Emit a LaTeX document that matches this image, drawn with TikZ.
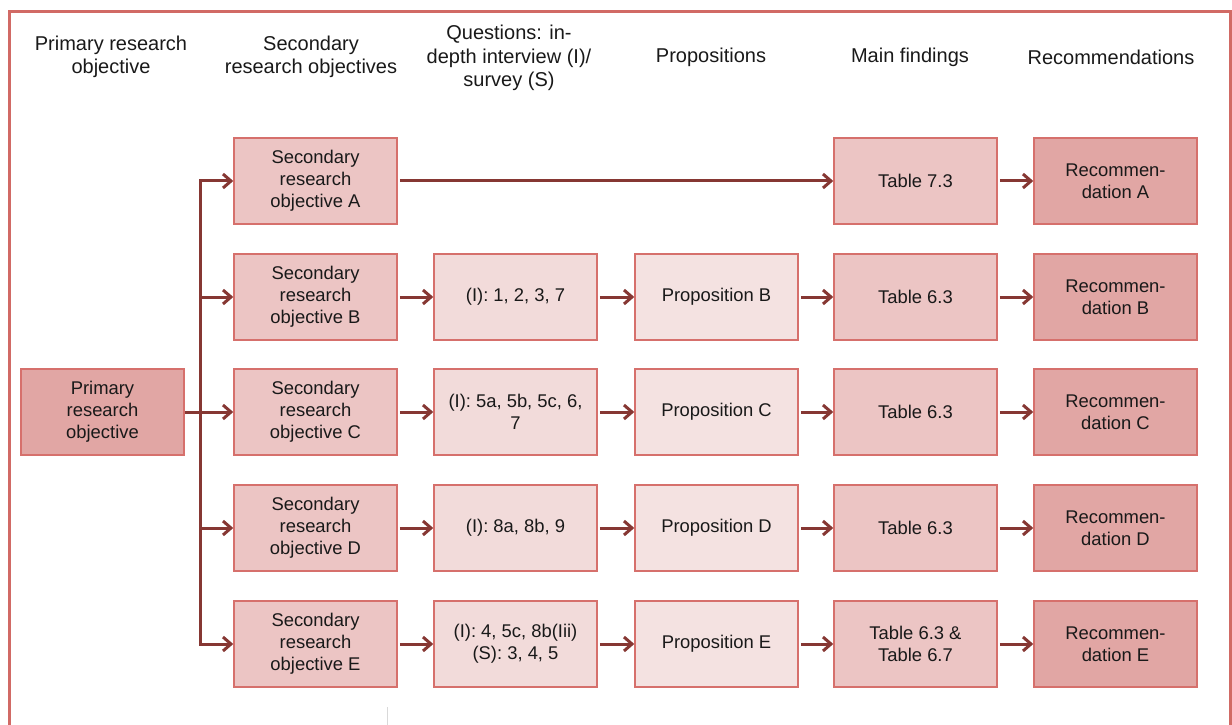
\documentclass[tikz,border=0pt]{standalone}
\usepackage{fontspec}
\setmainfont{Liberation Sans}
\usetikzlibrary{arrows.meta}
\definecolor{frameRed}{RGB}{209,106,101}
\definecolor{boxLine}{RGB}{214,112,108}
\definecolor{arrowRed}{RGB}{134,55,51}
\definecolor{fillSec}{RGB}{236,197,196}
\definecolor{fillQue}{RGB}{242,219,218}
\definecolor{fillPro}{RGB}{244,226,225}
\definecolor{fillFin}{RGB}{236,197,196}
\definecolor{fillRec}{RGB}{225,166,164}
\tikzset{
  basebox/.style={draw=boxLine, line width=1.5bp, minimum width=163bp, minimum height=86bp,
    inner sep=0pt, align=center, font=\fontsize{18.4bp}{22bp}\selectfont, text=black!90},
  secbox/.style={basebox, fill=fillSec},
  quebox/.style={basebox, fill=fillQue},
  probox/.style={basebox, fill=fillPro},
  finbox/.style={basebox, fill=fillFin},
  recbox/.style={basebox, fill=fillRec},
  headtext/.style={align=center, font=\fontsize{20bp}{23.5bp}\selectfont, text=black!90, inner sep=0pt},
  flow/.style={draw=arrowRed, line width=3bp, -{Straight Barb[length=8bp,width=14bp,line width=3bp]}},
}
\begin{document}
\begin{tikzpicture}[x=1bp, y=-1bp]
  \useasboundingbox (0,0) rectangle (1232,725);
  % outer frame, running past the lower edge
  \draw[frameRed, line width=3.5bp] (9.5,11.5) rectangle (1231,760);
  \draw[black!15, line width=1bp] (387,707) -- (387,725);

  % column headings
  \node[headtext] (h1) at (111,57) {Primary research\\objective};
  \node[headtext] (h2) at (311,57) {Secondary\\research objectives};
  \node[headtext] (h3) at (509,58) {Questions: in-\\depth interview (I)/\\survey (S)};
  \node[headtext] (h4) at (711,57) {Propositions};
  \node[headtext] (h5) at (910,57) {Main findings};
  \node[headtext] (h6) at (1111,57) {Recommendations};

  % primary objective
  \node[recbox] (prim) at (102.5,412) {Primary\\research\\objective};

  % secondary objectives
  \node[secbox] (sA) at (315.5,181) {Secondary\\research\\objective A};
  \node[secbox] (sB) at (315.5,297) {Secondary\\research\\objective B};
  \node[secbox] (sC) at (315.5,412) {Secondary\\research\\objective C};
  \node[secbox] (sD) at (315.5,528) {Secondary\\research\\objective D};
  \node[secbox] (sE) at (315.5,644) {Secondary\\research\\objective E};

  % interview / survey questions
  \node[quebox] (qB) at (515.5,297) {(I): 1, 2, 3, 7};
  \node[quebox] (qC) at (515.5,412) {(I): 5a, 5b, 5c, 6,\\7};
  \node[quebox] (qD) at (515.5,528) {(I): 8a, 8b, 9};
  \node[quebox] (qE) at (515.5,644) {(I): 4, 5c, 8b(Iii)\\(S): 3, 4, 5};

  % propositions
  \node[probox] (pB) at (716.5,297) {Proposition B};
  \node[probox] (pC) at (716.5,412) {Proposition C};
  \node[probox] (pD) at (716.5,528) {Proposition D};
  \node[probox] (pE) at (716.5,644) {Proposition E};

  % main findings
  \node[finbox] (fA) at (915.5,181) {Table 7.3};
  \node[finbox] (fB) at (915.5,297) {Table 6.3};
  \node[finbox] (fC) at (915.5,412) {Table 6.3};
  \node[finbox] (fD) at (915.5,528) {Table 6.3};
  \node[finbox] (fE) at (915.5,644) {Table 6.3 \&\\Table 6.7};

  % recommendations
  \node[recbox] (rA) at (1115.5,181) {Recommen-\\dation A};
  \node[recbox] (rB) at (1115.5,297) {Recommen-\\dation B};
  \node[recbox] (rC) at (1115.5,412) {Recommen-\\dation C};
  \node[recbox] (rD) at (1115.5,528) {Recommen-\\dation D};
  \node[recbox] (rE) at (1115.5,644) {Recommen-\\dation E};

  % branching from the primary objective
  \coordinate (trunk) at (200,412);
  \draw[flow] (prim.east) -- (sC.west);
  \draw[flow] (trunk) |- (sA.west);
  \draw[flow] (trunk) |- (sB.west);
  \draw[flow] (trunk) |- (sD.west);
  \draw[flow] (trunk) |- (sE.west);

  % row A goes straight to its finding
  \draw[flow, shorten <=2bp] (sA.east) -- (fA.west);
  \draw[flow, shorten <=2bp] (fA.east) -- (rA.west);

  % rows B to E
  \foreach \r in {B,C,D,E}{
    \draw[flow, shorten <=2bp] (s\r.east) -- (q\r.west);
    \draw[flow, shorten <=2bp] (q\r.east) -- (p\r.west);
    \draw[flow, shorten <=2bp] (p\r.east) -- (f\r.west);
    \draw[flow, shorten <=2bp] (f\r.east) -- (r\r.west);
  }
\end{tikzpicture}
\end{document}
